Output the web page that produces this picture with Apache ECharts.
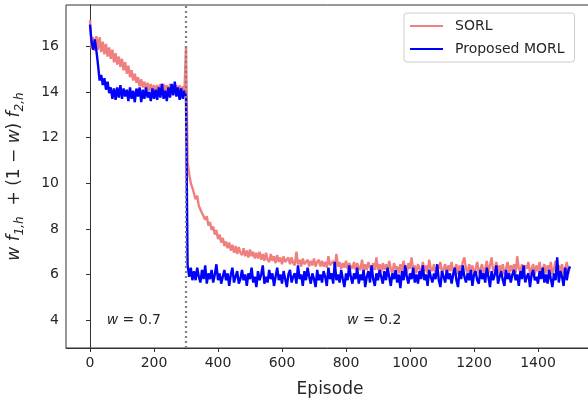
<!doctype html>
<html>
	<head>
		<meta charset="utf-8">
		<title>SORL vs MORL</title>
		<style>
			html, body { margin: 0; padding: 0; background: #fff; }
			#chart { width: 588px; height: 401px; }
		</style>
	</head>
	<body>
		<div id="chart"></div>
	</body>
	<script src="https://cdn.jsdelivr.net/npm/echarts@6/dist/echarts.min.js"></script>
	<script type="text/javascript">
		// one sample every 5 episodes, 0 .. 1500
		var episodes = [];
		for (var e = 0; e <= 1500; e += 5) episodes.push(e);

		var sorl = [
			// 0 .. 295  (w = 0.7)
			17.15, 15.9, 16.4, 15.8, 16.45, 15.85, 16.4, 15.75, 16.2, 15.65,
			16.1, 15.55, 15.95, 15.45, 15.85, 15.3, 15.7, 15.2, 15.55, 15.1,
			15.45, 14.95, 15.3, 14.8, 15.15, 14.65, 14.95, 14.5, 14.8, 14.4,
			14.65, 14.25, 14.55, 14.2, 14.45, 14.1, 14.4, 14.05, 14.35, 14.0,
			14.3, 13.95, 14.3, 13.95, 14.35, 13.95, 14.35, 14.0, 14.3, 13.9,
			14.35, 13.95, 14.3, 13.9, 14.3, 13.95, 14.3, 13.9, 14.25, 13.95,
			// 300 .. 320  (w = 0.2)
			16.0, 10.9, 10.4, 10.0, 9.8,
			// 325 ..
			9.8, 9.3, 9.45, 9.0, 9.05, 8.7, 8.75, 8.4, 8.55, 8.15, 8.3, 7.95, 8.1, 7.75, 7.95, 7.55, 7.75, 7.4, 7.6, 7.25,
			7.45, 7.15, 7.4, 7.05, 7.3, 6.95, 7.25, 6.9, 7.2, 6.95, 6.85, 7.15, 6.8, 7.05, 6.75, 7.1, 6.8, 7.0, 6.7, 6.95,
			6.7, 7.0, 6.65, 6.9, 6.6, 6.95, 6.65, 6.55, 6.9, 6.6, 6.8, 6.5, 6.85, 6.55, 6.75, 6.45, 6.8, 6.55, 6.5, 6.75,
			6.45, 6.75, 6.5, 6.4, 7.0, 6.45, 6.65, 6.35, 6.7, 6.45, 6.4, 6.65, 6.35, 6.6, 6.4, 6.7, 6.35, 6.55, 6.65, 6.35,
			6.6, 6.35, 6.55, 6.3, 6.8, 6.4, 6.35, 6.6, 6.3, 6.9, 6.35, 6.55, 6.25, 6.5, 6.3, 6.6, 6.25, 6.5, 6.35, 6.25,
			6.55, 6.2, 6.5, 6.3, 6.2, 6.65, 6.15, 6.45, 6.2, 6.55, 6.3, 6.1, 6.5, 6.2, 6.75, 6.2, 6.45, 6.1, 6.5, 6.2,
			6.45, 6.15, 6.6, 6.25, 6.05, 6.5, 6.25, 6.35, 6.05, 6.45, 6.15, 6.6, 6.25, 6.05, 6.5, 6.25, 6.75, 6.15, 6.4, 6.05,
			6.45, 6.25, 6.05, 6.55, 6.15, 6.4, 6.05, 6.65, 6.25, 6.15, 6.45, 6.05, 6.4, 6.25, 6.55, 6.05, 6.25, 6.45, 6.0, 6.4,
			6.15, 6.55, 6.05, 6.25, 6.45, 6.0, 6.4, 6.15, 6.55, 6.75, 6.25, 6.05, 6.45, 6.15, 6.4, 6.0, 6.25, 6.55, 6.05, 6.25,
			6.45, 6.05, 6.25, 6.6, 6.05, 6.4, 6.75, 6.15, 6.25, 6.55, 6.05, 6.4, 6.15, 6.45, 6.0, 6.25, 6.55, 6.05, 6.4, 6.15,
			6.45, 6.05, 6.8, 6.25, 6.15, 6.45, 6.0, 6.4, 6.25, 6.55, 6.05, 6.25, 6.45, 6.0, 6.4, 6.15, 6.55, 6.05, 6.25, 6.45,
			6.05, 6.4, 6.15, 6.55, 6.0, 6.25, 6.6, 6.05, 6.4, 6.15, 6.45, 6.0, 6.25, 6.55, 6.05, 6.35
		];

		var morl = [
			// 0 .. 295
			16.95, 16.2, 15.85, 16.3, 15.8, 15.2, 14.5, 14.75, 14.3, 14.6,
			14.1, 14.45, 13.95, 14.2, 13.7, 14.15, 13.65, 14.2, 13.75, 14.3,
			13.7, 14.15, 13.8, 14.1, 13.6, 14.2, 13.7, 14.05, 13.55, 14.15,
			13.8, 14.2, 13.55, 14.1, 13.7, 14.2, 13.75, 14.0, 13.6, 14.15,
			13.7, 14.1, 13.65, 14.2, 13.75, 14.35, 13.7, 14.05, 13.6, 14.2,
			13.75, 14.35, 13.85, 14.45, 13.8, 14.2, 13.65, 14.15, 13.7, 14.05,
			// 300 .. 320
			13.8, 6.4, 5.9, 6.3, 5.75,
			// 325 ..
			6.15, 5.75, 6.3, 5.9, 5.65, 6.2, 5.8, 6.4, 5.6, 6.05, 5.8, 6.2, 5.65, 6.0, 6.45, 5.75, 6.05, 5.6, 5.9, 6.2,
			5.75, 6.05, 5.5, 6.0, 6.3, 5.65, 5.9, 6.15, 5.6, 5.8, 6.2, 5.75, 6.0, 5.5, 6.05, 5.8, 6.3, 5.65, 5.9, 5.45,
			6.15, 5.75, 6.0, 6.4, 5.6, 5.9, 5.65, 6.2, 5.8, 6.05, 5.5, 5.9, 6.3, 5.75, 6.0, 5.6, 6.15, 5.8, 5.45, 6.0,
			6.2, 5.65, 5.9, 6.05, 5.6, 6.4, 5.8, 6.0, 5.5, 6.15, 5.75, 6.3, 5.9, 5.6, 6.05, 5.8, 5.45, 6.2, 5.75, 6.0,
			5.65, 6.15, 5.9, 5.5, 6.3, 5.8, 6.05, 5.6, 6.55, 5.75, 6.0, 5.65, 6.2, 5.8, 5.45, 6.05, 5.75, 6.4, 5.9, 5.6,
			6.05, 5.8, 6.3, 5.6, 6.0, 5.75, 6.2, 5.45, 5.9, 6.15, 5.65, 6.4, 5.8, 5.5, 6.05, 5.75, 6.2, 5.9, 5.6, 6.15,
			5.75, 6.3, 5.9, 5.5, 6.05, 5.8, 6.2, 5.65, 6.0, 5.4, 6.15, 5.75, 6.4, 5.9, 5.6, 6.05, 5.8, 6.3, 5.65, 6.0,
			5.6, 6.15, 5.8, 6.4, 5.75, 6.0, 5.5, 6.2, 5.9, 5.65, 6.05, 5.8, 6.45, 5.75, 5.45, 6.15, 5.9, 5.65, 6.2, 5.8,
			6.05, 5.6, 6.0, 6.3, 5.75, 5.45, 6.15, 5.8, 6.4, 5.9, 5.65, 6.05, 5.75, 6.2, 5.5, 6.0, 6.15, 5.75, 5.6, 6.2,
			5.8, 6.05, 5.65, 6.3, 5.9, 5.45, 6.15, 5.75, 6.0, 6.4, 5.6, 5.9, 6.15, 5.75, 5.5, 6.2, 5.8, 6.05, 5.65, 6.0,
			6.2, 5.75, 6.0, 5.5, 6.15, 5.8, 6.4, 5.65, 5.9, 6.05, 5.45, 6.0, 6.2, 5.75, 5.9, 5.6, 6.15, 5.8, 6.3, 5.65,
			6.0, 5.6, 6.2, 5.8, 5.45, 6.05, 5.75, 6.75, 5.65, 6.15, 5.9, 5.5, 6.3, 5.75, 6.2, 6.35
		];

		var xTicks = [0, 200, 400, 600, 800, 1000, 1200, 1400];
		var yTicks = [4, 6, 8, 10, 12, 14, 16];
		var switchEpisode = 300;
		var weightNotes = [
			{ episode: 137, value: 4, w: '0.7' },
			{ episode: 888, value: 4, w: '0.2' }
		];

		function pairs(xs, ys) {
			var out = [];
			for (var i = 0; i < ys.length; i++) out.push([xs[i], ys[i]]);
			return out;
		}

		var font = 'DejaVu Sans';
		var ink = '#262626';

		var option = {
			animation: false,
			backgroundColor: '#ffffff',
			textStyle: { fontFamily: font },
			grid: {
				left: 66, right: -6, top: 5, bottom: 53,
				containLabel: false, outerBoundsMode: 'none',
				show: true, borderColor: '#333', borderWidth: 1
			},
			legend: {
				orient: 'vertical',
				left: 404, top: 13,
				padding: [6, 10, 6, 6],
				icon: 'rect',
				itemWidth: 33, itemHeight: 2, itemGap: 9,
				backgroundColor: '#fff',
				borderColor: '#cccccc', borderWidth: 1, borderRadius: 3,
				textStyle: { fontFamily: font, fontSize: 14, color: ink, padding: [0, 0, 0, 7] },
				data: ['SORL', 'Proposed MORL']
			},
			xAxis: {
				type: 'value', min: -75, max: 1575,
				name: 'Episode', nameLocation: 'middle', nameGap: 33,
				nameTextStyle: { fontFamily: font, fontSize: 17, color: ink },
				axisLine: { lineStyle: { color: '#333' } },
				axisTick: { customValues: xTicks, length: 4, lineStyle: { color: '#333' } },
				axisLabel: {
					customValues: xTicks, fontFamily: font, fontSize: 14, color: ink, margin: 8,
					formatter: function (v) { return String(v); }
				},
				splitLine: { show: false }
			},
			yAxis: {
				type: 'value', min: 2.78, max: 17.81,
				name: '{i|w f}{s|1,h}{n|  + (1 − }{i|w}{n|) }{i|f}{s|2,h}',
				nameLocation: 'middle', nameGap: 40,
				nameTextStyle: {
					fontFamily: font, fontSize: 17, color: ink,
					rich: {
						i: { fontFamily: font, fontSize: 17, fontStyle: 'italic', color: ink, lineHeight: 22 },
						n: { fontFamily: font, fontSize: 17, color: ink, lineHeight: 22 },
						s: { fontFamily: font, fontSize: 12, fontStyle: 'italic', color: ink, lineHeight: 12, verticalAlign: 'bottom' }
					}
				},
				axisLine: { show: true, lineStyle: { color: '#333' } },
				axisTick: { show: true, customValues: yTicks, length: 4, lineStyle: { color: '#333' } },
				axisLabel: { customValues: yTicks, fontFamily: font, fontSize: 14, color: ink, margin: 7 },
				splitLine: { show: false }
			},
			series: [
				{
					name: 'SORL', type: 'line', symbol: 'none',
					data: pairs(episodes, sorl),
					lineStyle: { color: '#f08080', width: 2.4 },
					itemStyle: { color: '#f08080' },
					z: 2
				},
				{
					name: 'Proposed MORL', type: 'line', symbol: 'none',
					data: pairs(episodes, morl),
					lineStyle: { color: '#0000ff', width: 2.4 },
					itemStyle: { color: '#0000ff' },
					z: 3,
					markLine: {
						silent: true, symbol: ['none', 'none'],
						label: { show: false },
						emphasis: { disabled: true },
						lineStyle: { color: '#7f7f7f', type: [2, 3], width: 2.2, opacity: 1 },
						data: [{ xAxis: switchEpisode }]
					},
					markPoint: {
						silent: true, symbolSize: 0,
						label: {
							show: true, position: 'inside',
							fontFamily: font, fontSize: 14, color: ink,
							formatter: function (p) { return '{i|w}{n| = ' + p.data.w + '}'; },
							rich: {
								i: { fontFamily: font, fontSize: 14, fontStyle: 'italic', color: ink },
								n: { fontFamily: font, fontSize: 14, color: ink }
							}
						},
						data: weightNotes.map(function (d) {
							return { coord: [d.episode, d.value], w: d.w };
						})
					}
				}
			]
		};

		var myChart = echarts.init(document.getElementById('chart'));
		myChart.setOption(option);
	</script>
</html>
